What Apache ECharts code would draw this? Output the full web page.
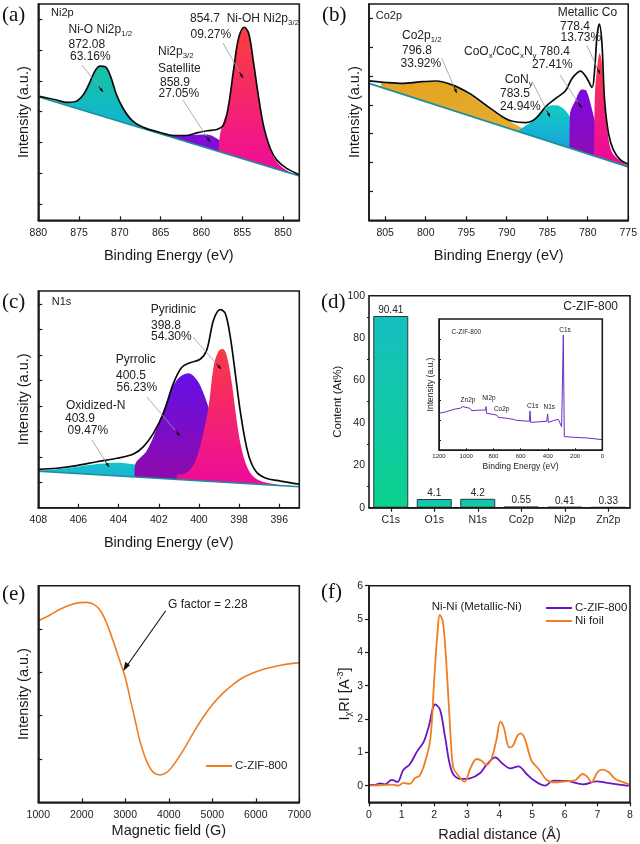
<!DOCTYPE html>
<html><head><meta charset="utf-8">
<style>html,body{margin:0;padding:0;background:#fff}#c{width:640px;height:844px}</style>
<script src="https://cdn.jsdelivr.net/npm/echarts@6/dist/echarts.min.js"></script>
</head><body><div id="c"></div>
<script>
// ---------- DATA (panel a: Ni2p) ----------
const aEnvelope=[[880,57.4],[877.75,55.6],[876.5,54.5],[875.5,54.8],[874.5,57.9],[873.66,64],[873.04,69.1],[872.43,71.3],[871.8,71],[871.2,67.1],[870.4,57.9],[869.6,51.7],[868.75,47.1],[867.9,44.4],[866.7,42.4],[865.07,40.6],[863.4,39.2],[861.8,39.2],[860.56,40.4],[859.3,41.4],[858.1,42],[857.3,44],[856.7,52.5],[856.06,69.4],[855.45,84.1],[854.75,89.2],[854.2,86.4],[853.6,72.5],[853,57.1],[852.4,44],[851.56,33.2],[850.75,27.8],[849.5,23.9],[848,21.1]];
const aBaseline=[[880,57.1],[848,20.5]];
const aNiO=[[880,56.8],[877.75,55.2],[876.5,54.2],[875.5,54.5],[874.5,57.6],[873.66,63.7],[873.04,68.8],[872.43,71],[871.8,70.7],[871.2,66.8],[870.4,57.6],[869.6,51.4],[868.75,46.8],[867.9,44.1],[866.7,42.1],[865.07,40],[864,38.5]];
const aSat=[[863.8,39.2],[861.4,39.4],[859.3,39.7],[858.1,37.8],[856.9,34.4],[855.65,30.9],[854.4,28.1],[853.2,25.9]];
const aNiOH=[[857.9,32.4],[857.7,40.1],[857.3,45.5],[856.7,52],[856.06,68.9],[855.45,83.6],[854.75,88.7],[854.2,85.9],[853.6,72],[853,56.6],[852.4,43.5],[851.56,32.7],[850.75,27],[849.5,23],[848,20.5]];
const aTickX=[880,875,870,865,860,855,850];
const aTickY=[93.1,78.7,64.4,50.2,35.9,21.6,7.3];
// ---------- DATA (panel b: Co2p) ----------
const bEnvelope=[[807,64.5],[804.83,63.7],[802.79,63.3],[800.74,64],[798.7,64.4],[796.65,62.5],[794.6,58.6],[792.56,53.2],[790.5,47.8],[789.3,45.8],[787.65,45.2],[786.4,47.1],[785.2,52.5],[783.97,56.3],[782.75,59.9],[781.93,65.6],[780.9,69],[780.09,65.6],[779.47,61.4],[779.15,69.4],[778.86,84.9],[778.57,90.7],[778.25,81.8],[777.92,55.6],[777.43,40.1],[776.82,32.4],[776,28.1],[775,25.9]];
const bBaseline=[[807,63.3],[775,24.7]];
const bCo12=[[805.5,63.3],[804.83,63.6],[802.79,63.3],[800.74,63.7],[798.7,64],[796.65,62.2],[794.6,57.9],[792.56,52.5],[790.5,47.5],[788.47,43.4],[786.4,39.4],[784.4,35.5]];
const bCoN=[[788.47,41.7],[787.86,43.2],[786.84,46],[785.8,50.2],[784.8,52.8],[783.9,53.2],[782.95,51.4],[782.13,47.5],[781.1,40.9],[779.88,35.5],[778.66,32.1],[777.43,29.3],[776.2,26.7]];
const bCoO=[[782.25,33.5],[782.2,48.6],[781.5,55.6],[780.7,60.5],[780.17,59.9],[779.56,52.5],[778.86,42.4],[778.04,34.7],[777,29.3],[776,27],[775,25.2]];
const bCo=[[779.2,29.8],[779.11,58.6],[778.82,71],[778.53,77.2],[778.25,72.5],[777.96,55.6],[777.5,39.4],[777.02,31.6],[776,27.5],[775,25]];
const bTickX=[805,800,795,790,785,780,775];
const bTickY=[93.4,79.9,66.7,53.4,40.1,26.7,13.4];
// ---------- DATA (panel c: N1s) ----------
const cEnvelope=[[408,17.7],[407.09,18.2],[406.09,19.4],[405.09,21.2],[404.09,22.8],[403.26,24.8],[402.76,28.2],[402.27,34.3],[401.77,43.5],[401.27,57.4],[400.85,64.8],[400.44,66.9],[399.94,68.5],[399.61,72.8],[399.27,86.6],[398.94,91.4],[398.69,89.7],[398.44,78.9],[398.19,62],[397.95,45.1],[397.7,31.2],[397.45,22],[397.11,16.2],[396.62,13.5],[395.95,12.3],[395,10.9]];
const cBaseline=[[408,16.8],[395,9.7]];
const cOxi=[[408,17.2],[406.59,18.2],[405.76,19.4],[404.93,20.3],[404.09,20.8],[403.26,20],[402.6,18.2],[401.77,15.5],[400.94,13.5],[400.1,12.3]];
const cPyrrolic=[[403.21,14.2],[403.18,19.7],[402.6,26.3],[402.1,36.6],[401.6,48.9],[401.1,58.9],[400.52,62],[400.1,58.9],[399.77,52.8],[399.44,44.3],[399.02,34.3],[398.6,23.5],[398.1,14.3]];
const cPyridinic=[[401.1,15.1],[400.6,16.2],[400.19,21.2],[399.86,31.2],[399.52,46.6],[399.27,65.1],[399.02,72.3],[398.81,73.2],[398.61,70],[398.36,57.4],[398.11,39.7],[397.86,26.6],[397.53,17.4],[397.11,13.1],[396.45,11.2],[395,9.7]];
const cTickX=[408,406,404,402,400,398,396];
const cTickY=[94,82.2,70.5,58.8,47,35.2,23.5,11.7];
// ---------- DATA (panel d: contents + survey inset) ----------
const dElements=['C1s','O1s','N1s','Co2p','Ni2p','Zn2p'];
const dContent=[90.41,4.1,4.2,0.55,0.41,0.33];
const dSurvey=[[1200,28],[1143.7,29.3],[1094.7,31],[1045.7,31.8],[1026,33.1],[1016,31.6],[972.2,31.8],[960,30],[898.8,30.5],[857,30.5],[854.7,33.1],[849.8,28],[800.8,27.2],[776.3,26.7],[764,24.9],[702.9,24.2],[653.9,23.4],[641.6,24.2],[629.4,22.6],[556,22.1],[536.3,21.9],[531.4,29.8],[526.5,21.1],[482.5,21.4],[409,21.9],[401.6,27.5],[396.7,21.1],[360,22.4],[323.3,23.4],[311,24.2],[298.8,17.8],[289,17.8],[286.5,87.8],[279.2,10.2],[213,9.7],[115,9.2],[0,7.9]];
const dInsetTickY=[84.5,69.2,53.9,38.2,22.9,7.1];
// ---------- DATA (panel e: EPR) ----------
const eEpr=[[1000,83.8],[1269,86.5],[1499,89.1],[1729,91.1],[1959,92.2],[2112,92.3],[2266,91.5],[2419,88.8],[2573,82.6],[2726,74.2],[2880,64.9],[2995,58],[3110,48],[3225,38],[3340,28],[3494,18.8],[3647,13.8],[3801,12.6],[3954,13.8],[4107,17.2],[4338,24.2],[4568,32.2],[4798,39.5],[5028,45.7],[5258,50.6],[5489,54.6],[5719,57.7],[5949,59.8],[6179,61.4],[6409,62.6],[6716,63.8],[7000,64.5]];
// ---------- DATA (panel f: EXAFS) ----------
const fSample=[[0,.02],[.18,.02],[.34,.07],[.49,.04],[.7,.17],[.87,.11],[1.05,.47],[1.25,.64],[1.47,1.02],[1.68,1.32],[1.83,1.77],[2.03,2.44],[2.18,2.27],[2.33,1.47],[2.54,.42],[2.8,.2],[3.1,.22],[3.4,.37],[3.6,.62],[3.87,.85],[4.07,.68],[4.33,.52],[4.58,.58],[4.83,.35],[5.04,.17],[5.4,0],[5.65,.15],[6.06,.14],[6.57,.04],[6.98,.13],[7.3,.08],[7.96,-.01]];
const fFoil=[[0,0],[.5,.02],[.7,.03],[.9,0],[1.05,.08],[1.25,.05],[1.4,.22],[1.55,.3],[1.7,.65],[1.88,1.4],[2,3.2],[2.1,4.6],[2.17,5.12],[2.27,4.9],[2.4,3.2],[2.5,1.5],[2.58,.55],[2.7,.35],[2.93,.12],[3.1,.5],[3.3,.8],[3.45,.75],[3.6,.62],[3.75,.8],[3.9,1.35],[4.03,1.92],[4.13,1.75],[4.3,1.15],[4.4,1.18],[4.55,1.5],[4.65,1.57],[4.78,1.4],[4.98,.75],[5.2,.5],[5.45,.17],[5.7,.1],[6,.13],[6.3,.15],[6.55,.35],[6.68,.28],[6.82,.1],[7,.4],[7.15,.48],[7.35,.4],[7.55,.2],[7.8,.1],[8,.03]];

// ---------- BUILD ----------
const chart=echarts.init(document.getElementById('c'),null,{renderer:'canvas'});
const FONT='"Liberation Sans",Arial,sans-serif', SERIF='"Liberation Serif",serif';
const INK='#1a1a1a', TICKC='#222';
const L=38.3,R2=369,W=261,H=216;
const grids=[
 {left:L,top:4,width:W,height:H+.3},
 {left:R2,top:4,width:W,height:H+.3},
 {left:L,top:291,width:W,height:H+.7},
 {left:R2,top:295.7,width:W,height:212},
 {left:L,top:585.7,width:W,height:216.6},
 {left:R2,top:585.7,width:W,height:216.6},
 {left:439,top:319,width:163.3,height:131}
].map(g=>Object.assign(g,{show:true,z:5,borderColor:INK,borderWidth:1.6,backgroundColor:'transparent'}));

const base={z:6,axisLine:{lineStyle:{color:INK,width:1.6},onZero:false}};
const plain=v=>String(v);
function xSci(i,min,max,ticks,name,gap){return Object.assign({},base,{gridIndex:i,type:'value',inverse:true,min,max,
  splitLine:{show:false},name:name,nameLocation:'middle',nameGap:gap,
  nameTextStyle:{fontFamily:FONT,fontSize:14.5,color:INK},
  axisTick:{show:true,inside:true,length:4,customValues:ticks,lineStyle:{color:INK,width:1.2}},
  axisLabel:{show:true,customValues:ticks,fontFamily:FONT,fontSize:10.5,color:TICKC,margin:7,hideOverlap:false,showMinLabel:true,showMaxLabel:true}});}
function yBlank(i,ticks,name,gap){return Object.assign({},base,{gridIndex:i,type:'value',min:0,max:100,
  splitLine:{show:false},name:name,nameLocation:'middle',nameGap:gap,
  nameTextStyle:{fontFamily:FONT,fontSize:14.5,color:INK},
  axisTick:{show:true,inside:true,length:4,customValues:ticks,lineStyle:{color:INK,width:1.2}},
  axisLabel:{show:false}});}

const xAxes=[
 xSci(0,848,880,aTickX,'Binding Energy (eV)',28),
 xSci(1,775,807,bTickX,'Binding Energy (eV)',28),
 xSci(2,395,408,cTickX,'Binding Energy (eV)',28),
 Object.assign({},base,{gridIndex:3,type:'category',data:dElements,axisTick:{show:true,alignWithLabel:true,length:4,lineStyle:{color:INK,width:1.2}},
   axisLabel:{fontFamily:FONT,fontSize:10.5,color:TICKC,margin:7}}),
 Object.assign({},base,{gridIndex:4,type:'value',min:1000,max:7000,interval:1000,splitLine:{show:false},name:'Magnetic field (G)',nameLocation:'middle',nameGap:21,
   nameTextStyle:{fontFamily:FONT,fontSize:14.5,color:INK},axisTick:{inside:true,length:4,lineStyle:{color:INK,width:1.2}},
   axisLabel:{fontFamily:FONT,fontSize:10.5,color:TICKC,margin:7,formatter:plain}}),
 Object.assign({},base,{gridIndex:5,type:'value',min:0,max:8,interval:1,splitLine:{show:false},name:'Radial distance (Å)',nameLocation:'middle',nameGap:25,
   nameTextStyle:{fontFamily:FONT,fontSize:14.5,color:INK},axisTick:{inside:false,length:4,lineStyle:{color:INK,width:1.2}},
   axisLabel:{fontFamily:FONT,fontSize:10.5,color:TICKC,margin:7}}),
 Object.assign({},base,{gridIndex:6,type:'value',inverse:true,min:0,max:1200,interval:200,splitLine:{show:false},name:'Binding Energy (eV)',nameLocation:'middle',nameGap:12,
   nameTextStyle:{fontFamily:FONT,fontSize:8.5,color:INK},axisLine:{lineStyle:{color:INK,width:1},onZero:false},axisTick:{inside:true,length:2,lineStyle:{color:INK,width:.8}},
   axisLabel:{fontFamily:FONT,fontSize:6,color:TICKC,margin:3,formatter:plain}})
];
const yAxes=[
 yBlank(0,aTickY,'Intensity (a.u.)',7),
 yBlank(1,bTickY,'Intensity (a.u.)',7),
 yBlank(2,cTickY,'Intensity (a.u.)',7),
 Object.assign({},base,{gridIndex:3,type:'value',min:0,max:100,interval:20,splitLine:{show:false},minorTick:{show:true,splitNumber:2,length:2,lineStyle:{color:INK}},
   name:'Content (At%)',nameLocation:'middle',nameGap:16,nameTextStyle:{fontFamily:FONT,fontSize:11.5,color:INK},
   axisTick:{length:4,lineStyle:{color:INK,width:1.2}},axisLabel:{fontFamily:FONT,fontSize:10.5,color:TICKC,margin:4,showMaxLabel:true}}),
 yBlank(4,[20,40,60,80],'Intensity (a.u.)',7),
 Object.assign({},base,{gridIndex:5,type:'value',min:-.5,max:6,splitLine:{show:false},
   name:'{a|I}{s|χ}{a|RI [A}{u|-3}{a|]}',nameLocation:'middle',nameGap:8,
   nameTextStyle:{rich:{a:{fontFamily:FONT,fontSize:14.5,color:INK},s:{fontFamily:SERIF,fontSize:11,color:INK,verticalAlign:'bottom',lineHeight:17},u:{fontFamily:FONT,fontSize:9,color:INK,verticalAlign:'top',lineHeight:17}}},
   axisTick:{inside:false,length:4,customValues:[0,1,2,3,4,5,6],lineStyle:{color:INK,width:1.2}},
   axisLabel:{customValues:[0,1,2,3,4,5,6],fontFamily:FONT,fontSize:10.5,color:TICKC,margin:6}}),
 yBlank(6,dInsetTickY,'Intensity (a.u.)',4)
];
yAxes[6].nameTextStyle={fontFamily:FONT,fontSize:8.5,color:INK};
yAxes[6].axisLine={lineStyle:{color:INK,width:1},onZero:false};
yAxes[6].axisTick.length=2;

function grad(y1,y2,c1,c2){return new echarts.graphic.LinearGradient(0,y1,0,y2,[{offset:0,color:c1},{offset:1,color:c2}],true);}
function peak(i,data,fill){return {type:'line',xAxisIndex:i,yAxisIndex:i,data,smooth:.35,symbol:'none',silent:true,
  lineStyle:{width:0},areaStyle:{color:fill,opacity:1}};}
function mask(i,data){return {type:'line',xAxisIndex:i,yAxisIndex:i,data,symbol:'none',silent:true,
  lineStyle:{color:'#1d8f9c',width:1.6},areaStyle:{color:'#fff',opacity:1}};}
function env(i,data){return {type:'line',xAxisIndex:i,yAxisIndex:i,data,smooth:.35,symbol:'none',silent:true,
  lineStyle:{color:'#0a0a0a',width:1.7}};}
function curve(i,name,data,color,w){return {type:'line',name,xAxisIndex:i,yAxisIndex:i,data,smooth:.35,symbol:'none',silent:true,
  lineStyle:{color,width:w},itemStyle:{color}};}

const RED=(a,b)=>grad(a,b,'#fb3b45','#ee0d98');
const series=[
 peak(0,aNiO,grad(70,140,'#16c2a6','#0fb2dc')),
 peak(0,aSat,grad(130,170,'#7a12dc','#8c05c4')),
 peak(0,aNiOH,RED(40,170)),
 mask(0,aBaseline),env(0,aEnvelope),

 peak(1,bCo12,grad(80,150,'#e3a41f','#e6b03a')),
 peak(1,bCoN,grad(110,160,'#12c8c6','#1a98e2')),
 peak(1,bCoO,grad(90,160,'#7a0ae0','#8f0db4')),
 peak(1,bCo,RED(55,150)),
 mask(1,bBaseline),env(1,bEnvelope),

 peak(2,cOxi,grad(460,490,'#10cac8','#2a9ae2')),
 peak(2,cPyrrolic,grad(375,470,'#6410e6','#8c0ab0')),
 peak(2,cPyridinic,RED(345,480)),
 mask(2,cBaseline),env(2,cEnvelope),

 {type:'bar',xAxisIndex:3,yAxisIndex:3,data:dContent,barWidth:35,silent:true,
  itemStyle:{color:new echarts.graphic.LinearGradient(0,0,0,1,[{offset:0,color:'#16bfc0'},{offset:1,color:'#0bd28e'}]),borderColor:'#2a3a3a',borderWidth:1},
  label:{show:true,position:'top',distance:1,fontFamily:FONT,fontSize:10,color:TICKC}},
 Object.assign(curve(6,'survey',dSurvey,'#6d2cc0',1),{smooth:false}),

 curve(4,'EPR C-ZIF-800',eEpr,'#ef7d22',1.6),
 curve(5,'C-ZIF-800',fSample,'#6a14c8',1.8),
 curve(5,'Ni foil',fFoil,'#ef7d22',1.8)
];

// ---------- ANNOTATIONS ----------
const g=[];
function t(x,y,text,size,extra){g.push({type:'text',x,y,z:20,silent:true,style:Object.assign({text,fontFamily:FONT,fontSize:size||12,fill:'#222',verticalAlign:'middle',
   rich:{b:{fontFamily:FONT,fontSize:size||12,fill:'#222'},s:{fontFamily:FONT,fontSize:(size||12)*.66,fill:'#222',verticalAlign:'bottom',lineHeight:(size||12)+3}}},extra||{})});}
function p(x,y,text){g.push({type:'text',x,y,z:20,silent:true,style:{text,fontFamily:SERIF,fontSize:21,fill:'#111',verticalAlign:'middle'}});}
function lead(x1,y1,x2,y2){
  const dx=x2-x1,dy=y2-y1,len=Math.hypot(dx,dy),ux=dx/len,uy=dy/len,mx=x2-ux*7,my=y2-uy*7;
  g.push({type:'line',z:20,silent:true,shape:{x1,y1,x2:mx,y2:my},style:{stroke:'#9a9a9a',lineWidth:.8}});
  g.push({type:'line',z:20,silent:true,shape:{x1:mx,y1:my,x2,y2},style:{stroke:'#111',lineWidth:1}});
  g.push({type:'polygon',z:20,silent:true,shape:{points:[[x2,y2],[x2-ux*4-uy*1.6,y2-uy*4+ux*1.6],[x2-ux*4+uy*1.6,y2-uy*4-ux*1.6]]},style:{fill:'#111'}});
}
// a
p(2,15,'(a)'); t(51,13,'Ni2p',11);
t(68.5,30,'{b|Ni-O Ni2p}{s|1/2}'); t(68.5,44.5,'872.08'); t(70,57,'63.16%');
t(158,52,'{b|Ni2p}{s|3/2}'); t(158,68.5,'Satellite'); t(160,83,'858.9'); t(158.5,94,'27.05%');
t(190,19,'{b|854.7  Ni-OH Ni2p}{s|3/2}'); t(190.5,34.5,'09.27%');
lead(223,43,243,78); lead(82,65,103,92); lead(183,100,210,142);
// b
p(322,15,'(b)'); t(375.7,15.7,'Co2p',11);
t(402,36,'{b|Co2p}{s|1/2}'); t(402,51,'796.8'); t(400.5,64,'33.92%');
t(557.7,13,'Metallic Co'); t(560,27,'778.4'); t(560.5,38,'13.73%');
t(464,52,'{b|CoO}{s|x}{b|/CoC}{s|x}{b|N}{s|y}{b| 780.4}'); t(532,65,'27.41%');
t(504.7,80,'{b|CoN}{s|y}'); t(500,94,'783.5'); t(500,107,'24.94%');
lead(441.7,58,456.7,93); lead(533,83,550,117); lead(560,75,581.7,108); lead(586.7,45,600,74);
// c
p(2,302,'(c)'); t(51.7,302,'N1s',11);
t(150.7,310,'Pyridinic'); t(151,325.7,'398.8'); t(151,337,'54.30%');
t(115.7,360,'Pyrrolic'); t(116,376,'400.5'); t(116.5,388,'56.23%');
t(66,406,'Oxidized-N'); t(65,419,'403.9'); t(67.5,431,'09.47%');
lead(193,337,221,369); lead(147,397,180,436); lead(92,440,109,467);
// d
p(321,302,'(d)'); t(618,307,'C-ZIF-800',12,{align:'right'});
t(451.5,332.7,'C-ZIF-800',6.5);
t(565,330,'C1s',6.5,{align:'center'}); t(468,400,'Zn2p',6.5,{align:'center'}); t(489,398.7,'Ni2p',6.5,{align:'center'});
t(501.7,409.3,'Co2p',6.5,{align:'center'}); t(532.7,406,'C1s',6.5,{align:'center'}); t(549.3,407.3,'N1s',6.5,{align:'center'});
// e
p(2,594,'(e)'); t(168,605,'G factor = 2.28');
g.push({type:'line',z:20,silent:true,shape:{x1:165.7,y1:610.7,x2:125,y2:668.5},style:{stroke:'#111',lineWidth:1.1}});
g.push({type:'polygon',z:20,silent:true,shape:{points:[[123.3,671],[125.2,661.8],[130,665.2]]},style:{fill:'#111'}});
// f
p(321,592,'(f)'); t(476.7,606.7,'Ni-Ni (Metallic-Ni)',11.5,{align:'center'});

const legendBase={padding:0,icon:'rect',itemWidth:26,itemHeight:2,selectedMode:false,textStyle:{fontFamily:FONT,fontSize:11.5,color:'#222',padding:[0,0,0,-2]}};
chart.setOption({
 animation:false,backgroundColor:'#fff',
 grid:grids,xAxis:xAxes,yAxis:yAxes,series,
 legend:[
  Object.assign({},legendBase,{data:['EPR C-ZIF-800'],left:206,top:760,formatter:()=>'C-ZIF-800'}),
  Object.assign({},legendBase,{data:['C-ZIF-800','Ni foil'],left:546,top:602,orient:'vertical',itemGap:1})
 ],
 graphic:g
});
</script></body></html>
